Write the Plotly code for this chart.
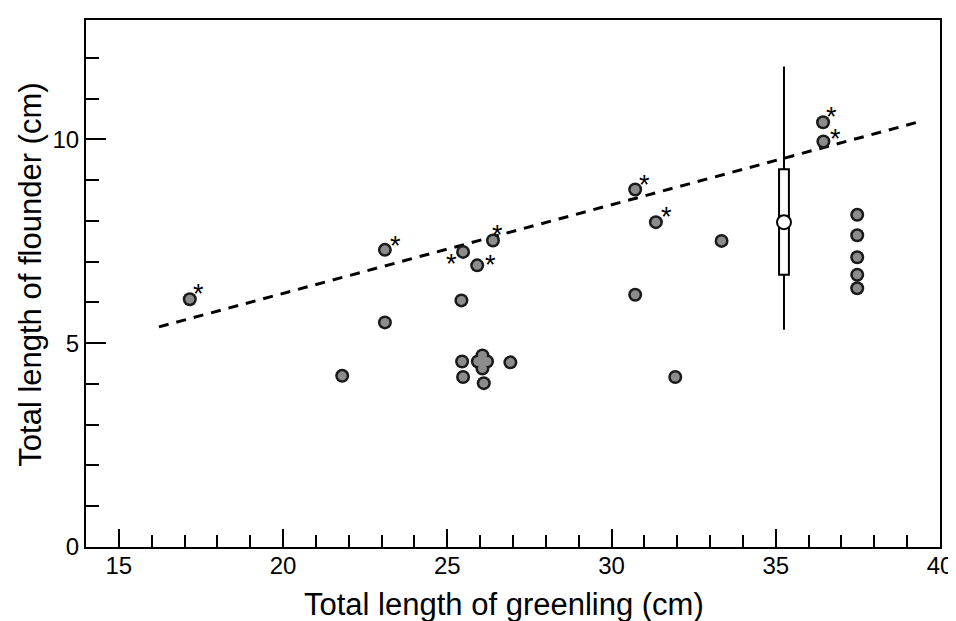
import plotly.graph_objects as go

# ---- data ----
greenling = [17.16, 21.80, 23.10, 23.10, 25.48, 25.43, 25.45, 25.48,
             25.93, 26.21, 26.07, 26.07, 26.07, 26.11, 26.92, 25.91, 26.39,
             30.72, 31.35, 30.72, 31.94, 33.35, 36.44, 36.45,
             37.48, 37.48, 37.48, 37.48, 37.48]
flounder = [6.08, 4.20, 7.29, 5.51, 7.24, 6.05, 4.55, 4.17,
            4.55, 4.55, 4.70, 4.38, 4.55, 4.02, 4.53, 6.91, 7.52,
            8.77, 7.97, 6.19, 4.17, 7.51, 10.42, 9.95,
            8.15, 7.65, 7.11, 6.68, 6.35]
starred = [0, 2, 4, 15, 16, 17, 18, 22, 23]
# asterisk offsets (px, right / up) relative to the point
star_offsets = [(9, 11), (11, 10), (-12, -6), (13, 6), (5, 12),
                (9, 11), (11, 11), (8, 11), (12, 8)]

reg_x = [16.22, 39.35]
reg_y = [5.40, 10.43]

summary_x = 35.25
summary_lo, summary_q1, summary_mean, summary_q3, summary_hi = 5.33, 6.68, 7.97, 9.27, 11.79

x_major = [15, 20, 25, 30, 35, 40]
x_minor = [v for v in range(16, 40) if v % 5 != 0]
y_major = [0, 5, 10]
y_minor = [v for v in range(1, 13) if v % 5 != 0]

x_title = "Total length of greenling (cm)"
y_title = "Total length of flounder (cm)"

FONT = "Liberation Sans, Arial, Helvetica, sans-serif"

fig = go.Figure()

# regression line
fig.add_trace(go.Scatter(x=reg_x, y=reg_y, mode="lines",
                         line=dict(color="black", width=3, dash="10px,8px"),
                         hoverinfo="skip", showlegend=False))

# summary box (range, quartile box, mean)
fig.add_trace(go.Box(x=[summary_x], q1=[summary_q1], median=[summary_mean],
                     q3=[summary_q3], lowerfence=[summary_lo],
                     upperfence=[summary_hi], width=0.3, whiskerwidth=0,
                     line=dict(color="black", width=2), fillcolor="white",
                     showlegend=False, boxpoints=False))
fig.add_trace(go.Scatter(x=[summary_x], y=[summary_mean], mode="markers",
                         marker=dict(size=14, color="white",
                                     line=dict(color="black", width=2)),
                         showlegend=False))

# points: dark outline layer, then grey fill layer
fig.add_trace(go.Scatter(x=greenling, y=flounder, mode="markers",
                         marker=dict(size=14, color="#1a1a1a"),
                         showlegend=False, hoverinfo="skip"))
fig.add_trace(go.Scatter(x=greenling, y=flounder, mode="markers",
                         marker=dict(size=9, color="#8c8c8c"),
                         showlegend=False))

for i, (dx, dy) in zip(starred, star_offsets):
    fig.add_annotation(x=greenling[i], y=flounder[i], text="*",
                       showarrow=False, xshift=dx, yshift=dy - 6,
                       font=dict(family=FONT, size=27, color="black"))

# axis titles
fig.add_annotation(xref="paper", yref="paper", x=0.489, y=-0.11,
                   text=x_title, showarrow=False, xanchor="center",
                   yanchor="middle",
                   font=dict(family=FONT, size=31, color="black"))
fig.add_annotation(xref="paper", yref="paper", x=-0.066, y=0.516,
                   text=y_title, showarrow=False, textangle=-90,
                   xanchor="center", yanchor="middle",
                   font=dict(family=FONT, size=31, color="black"))

axis_common = dict(showgrid=False, zeroline=False, showline=True,
                   linecolor="black", linewidth=2, mirror=True,
                   ticks="inside", tickcolor="black", tickwidth=2,
                   automargin=False,
                   tickfont=dict(family=FONT, size=24, color="black"))

fig.update_xaxes(range=[14, 40], tickmode="array", tickvals=x_major,
                 ticklen=18, ticklabelstandoff=-4,
                 minor=dict(tickmode="array", tickvals=x_minor, ticks="inside",
                            ticklen=12, tickwidth=2, tickcolor="black"),
                 **axis_common)
fig.update_yaxes(range=[0, 12.93], tickmode="array", tickvals=y_major,
                 ticklen=20,
                 minor=dict(tickmode="array", tickvals=y_minor, ticks="inside",
                            ticklen=13, tickwidth=2, tickcolor="black"),
                 **axis_common)

# page body has an 8px default margin, so the figure is sized to fit inside
fig.update_layout(width=948, height=613, plot_bgcolor="white",
                  paper_bgcolor="white",
                  margin=dict(l=78, r=16, t=12, b=74), showlegend=False)

fig.write_html("out.html")
